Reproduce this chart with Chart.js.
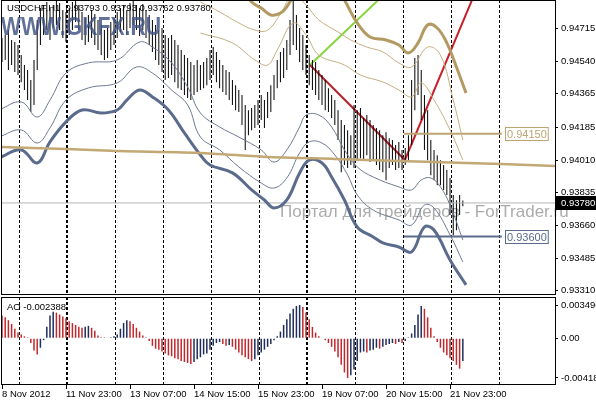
<!DOCTYPE html>
<html lang="en">
<head>
<meta charset="UTF-8">
<title>USDCHF,H1</title>
<script src="https://cdn.jsdelivr.net/npm/chart.js"></script>
<style>
    body { margin: 0; background: #fff; width: 596px; height: 400px; position: relative; overflow: hidden; }
    #main { position: absolute; left: 0; top: 0; }
    #ao { position: absolute; left: 0; top: 296px; }
</style>
</head>
<body>
<canvas id="main" width="596" height="296"></canvas>
<canvas id="ao" width="596" height="104"></canvas>
<script>
// ---- data (bar index = H1 bar, 0 = left edge) ----
const symbol = 'USDCHF,H1';
const quote = [0.93793, 0.93793, 0.93762, 0.93780];   // O H L C of last bar

const highs = [
    0.94663, 0.94679, 0.94706, 0.94653, 0.94642, 0.94626, 0.94572, 0.94519, 0.94492, 0.94438,
    0.94545, 0.94760, 0.94824, 0.94840, 0.94856, 0.94824, 0.94840, 0.94867, 0.94851, 0.94813,
    0.94803, 0.94824, 0.94856, 0.94867, 0.94840, 0.94803, 0.94771, 0.94787, 0.94813, 0.94792,
    0.94760, 0.94733, 0.94706, 0.94717, 0.94749, 0.94771, 0.94803, 0.94824, 0.94840, 0.94813,
    0.94851, 0.94867, 0.94840, 0.94824, 0.94846, 0.94813, 0.94787, 0.94760, 0.94733, 0.94706,
    0.94717, 0.94679, 0.94663, 0.94679, 0.94653, 0.94626, 0.94599, 0.94572, 0.94556, 0.94535,
    0.94519, 0.94545, 0.94519, 0.94535, 0.94556, 0.94599, 0.94615, 0.94588, 0.94545, 0.94519,
    0.94492, 0.94481, 0.94438, 0.94411, 0.94385, 0.94358, 0.94304, 0.94277, 0.94288, 0.94304,
    0.94331, 0.94358, 0.94331, 0.94374, 0.94411, 0.94465, 0.94545, 0.94588, 0.94610, 0.94653,
    0.94760, 0.94867, 0.94787, 0.94717, 0.94679, 0.94626, 0.94572, 0.94545, 0.94535, 0.94492,
    0.94465, 0.94438, 0.94395, 0.94358, 0.94331, 0.94277, 0.94224, 0.94197, 0.94170, 0.94143,
    0.94304, 0.94277, 0.94288, 0.94235, 0.94251, 0.94224, 0.94197, 0.94181, 0.94170, 0.94143,
    0.94159, 0.94127, 0.94117, 0.94090, 0.94106, 0.94063, 0.94074, 0.94143, 0.94438, 0.94556,
    0.94572, 0.94492, 0.94358, 0.94277, 0.94117, 0.94063, 0.94036, 0.94009, 0.93983, 0.93956,
    0.93913, 0.93822, 0.93795, 0.93822, 0.93793
];
const lows = [
    0.94535, 0.94545, 0.94492, 0.94519, 0.94481, 0.94465, 0.94427, 0.94385, 0.94331, 0.94267,
    0.94304, 0.94492, 0.94626, 0.94679, 0.94706, 0.94653, 0.94717, 0.94733, 0.94706, 0.94663,
    0.94642, 0.94679, 0.94706, 0.94749, 0.94706, 0.94653, 0.94626, 0.94642, 0.94663, 0.94626,
    0.94599, 0.94572, 0.94545, 0.94556, 0.94599, 0.94626, 0.94663, 0.94695, 0.94706, 0.94679,
    0.94717, 0.94733, 0.94706, 0.94674, 0.94706, 0.94663, 0.94626, 0.94588, 0.94545, 0.94519,
    0.94481, 0.94438, 0.94449, 0.94465, 0.94427, 0.94395, 0.94385, 0.94358, 0.94342, 0.94331,
    0.94358, 0.94374, 0.94385, 0.94395, 0.94411, 0.94438, 0.94465, 0.94427, 0.94395, 0.94374,
    0.94358, 0.94331, 0.94304, 0.94277, 0.94267, 0.94197, 0.94063, 0.94143, 0.94170, 0.94181,
    0.94197, 0.94224, 0.94181, 0.94235, 0.94267, 0.94331, 0.94395, 0.94427, 0.94449, 0.94492,
    0.94572, 0.94626, 0.94599, 0.94535, 0.94492, 0.94465, 0.94411, 0.94385, 0.94358, 0.94331,
    0.94304, 0.94277, 0.94267, 0.94235, 0.94197, 0.94117, 0.93945, 0.93983, 0.93967, 0.93983,
    0.93967, 0.94009, 0.94020, 0.94009, 0.94036, 0.93999, 0.94009, 0.93983, 0.93956, 0.93945,
    0.93902, 0.93967, 0.93983, 0.93956, 0.93967, 0.93956, 0.93983, 0.94009, 0.94090, 0.94277,
    0.94358, 0.94224, 0.94063, 0.94009, 0.93929, 0.93902, 0.93875, 0.93875, 0.93849, 0.93822,
    0.93715, 0.93607, 0.93634, 0.93715, 0.93762
];

// envelope bands: knots as [bar index], [price]
const goldOuterX = [62, 74, 78, 81, 84, 87, 89, 92, 98, 104, 107, 111, 115, 120, 124, 127, 130, 133, 136, 139, 142, 145];
const goldOuterY = [0.95081, 0.94947, 0.94856, 0.94824, 0.94787, 0.94797, 0.94830, 0.94921, 0.95081, 0.94947, 0.94867,
    0.94744, 0.94669, 0.94653, 0.94626, 0.94583, 0.94637, 0.94733, 0.94717, 0.94637, 0.94508, 0.94369];
const goldMidX = [62, 68, 74, 79, 83, 87, 91, 95, 99, 105, 109, 114, 119, 124, 128, 133, 137, 141, 144];
const goldMidY = [0.94856, 0.94803, 0.94744, 0.94706, 0.94706, 0.94792, 0.94894, 0.94840, 0.94760, 0.94696,
    0.94653, 0.94615, 0.94589, 0.94530, 0.94508, 0.94615, 0.94572, 0.94331, 0.94117];
const goldInnerX = [62, 72, 79, 83, 86, 91, 95, 99, 107, 112, 119, 124, 128, 131, 135, 140, 144];
const goldInnerY = [0.94690, 0.94637, 0.94546, 0.94519, 0.94599, 0.94744, 0.94680, 0.94572, 0.94519, 0.94465,
    0.94428, 0.94385, 0.94348, 0.94423, 0.94331, 0.94171, 0.94010];

const slateOuterX = [-1, 6, 11, 15, 20, 25, 31, 36, 39, 43, 47, 52, 57, 62, 65, 72, 78, 82, 85, 89, 93, 96, 100,
    103, 107, 111, 116, 119, 124, 128, 132, 135, 140, 145];
const slateOuterY = [0.94021, 0.94064, 0.93994, 0.94107, 0.94214, 0.94278, 0.94262, 0.94278, 0.94331, 0.94385,
    0.94348, 0.94278, 0.94155, 0.94037, 0.93983, 0.93941, 0.93850, 0.93796, 0.93753, 0.93796, 0.93941, 0.94010,
    0.93994, 0.93919, 0.93796, 0.93651, 0.93598, 0.93566, 0.93544, 0.93518, 0.93651, 0.93635, 0.93475, 0.93341];
const slateMidX = [-1, 6, 11, 15, 20, 27, 36, 42, 47, 53, 58, 62, 68, 74, 81, 85, 89, 93, 96, 100, 104, 108, 111,
    116, 124, 128, 132, 135, 140, 144];
const slateMidY = [0.94133, 0.94171, 0.94101, 0.94182, 0.94331, 0.94396, 0.94423, 0.94508, 0.94476, 0.94385,
    0.94305, 0.94133, 0.94064, 0.93973, 0.93887, 0.93860, 0.93914, 0.94048, 0.94107, 0.94101, 0.94037, 0.93930,
    0.93823, 0.93742, 0.93689, 0.93662, 0.93769, 0.93753, 0.93609, 0.93464];
const slateInnerX = [-1, 6, 11, 15, 20, 27, 36, 43, 47, 53, 58, 62, 68, 74, 81, 85, 89, 93, 95, 99, 103, 107, 111,
    116, 124, 128, 131, 134, 137, 140, 144];
const slateInnerY = [0.94278, 0.94321, 0.94240, 0.94331, 0.94476, 0.94530, 0.94546, 0.94642, 0.94615, 0.94530,
    0.94401, 0.94262, 0.94187, 0.94133, 0.94064, 0.93999, 0.94064, 0.94187, 0.94251, 0.94251, 0.94187, 0.94064,
    0.93973, 0.93919, 0.93866, 0.93850, 0.93903, 0.93914, 0.93866, 0.93769, 0.93582];

// slow moving average
const maX = [-1, 20, 36, 62, 83, 104, 124, 135, 145, 156, 173];
const maY = [0.94080, 0.94069, 0.94058, 0.94048, 0.94026, 0.94016, 0.94005, 0.93999, 0.93994, 0.93989, 0.93978];

// trend lines [x0, y0, x1, y1]
const redDown = [96.25, 0.94519, 125.9, 0.94010];
const redUp = [125.9, 0.94010, 150, 0.94995];
const greenUp = [96.25, 0.94519, 122, 0.94939];

// horizontal levels
const levelValues = [0.94150, 0.93600];
const levelFrom = 125.6, levelTo = 156.2;

// Awesome Oscillator
const aoValues = [
    0.0024, 0.0022, 0.0019, 0.0015, 0.0010, 0.0006, 0.0004, 0.0002, 0.0001, -0.0005,
    -0.0013, -0.0017, -0.0010, -0.0002, 0.0012, 0.0024, 0.0028, 0.0027, 0.0025, 0.0023,
    0.0021, 0.0018, 0.0016, 0.0014, 0.0012, 0.0011, 0.0012, 0.0013, 0.0011, 0.0008,
    0.0003, 0.0001, 0.0001, 0.00005, 0.0001, 0.0002, 0.0004, 0.0010, 0.0016, 0.0019,
    0.0018, 0.0015, 0.0011, 0.0007, 0.0003, 0.0001, -0.0003, -0.0008, -0.0011, -0.0012,
    -0.0014, -0.0016, -0.0018, -0.0019, -0.0021, -0.0022, -0.0024, -0.0025, -0.0026, -0.0027,
    -0.0025, -0.0022, -0.0020, -0.0017, -0.0016, -0.0012, -0.0008, -0.0005, -0.0004, -0.0006,
    -0.0008, -0.0007, -0.0009, -0.0012, -0.0015, -0.0018, -0.0020, -0.0022, -0.0024, -0.0022,
    -0.0018, -0.0015, -0.0012, -0.0009, -0.0006, -0.0002, 0.0002, 0.0007, 0.0014, 0.0020,
    0.0026, 0.0031, 0.0034, 0.003496, 0.0033, 0.0027, 0.0020, 0.0012, 0.0006, 0.0002,
    0.00005, -0.0002, -0.0005, -0.0009, -0.0014, -0.0020, -0.0028, -0.0036, -0.00418, -0.0039,
    -0.0033, -0.0024, -0.0015, -0.0014, -0.0015, -0.0013, -0.0012, -0.0010, -0.0011, -0.0009,
    -0.0007, -0.0006, -0.0005, -0.0006, -0.0004, -0.0005, -0.0003, 0.0001, 0.0005, 0.0014,
    0.0025, 0.0034, 0.0031, 0.0022, 0.0011, 0.0002, -0.0004, -0.0010, -0.0015, -0.0018,
    -0.0021, -0.0024, -0.0028, -0.0032, -0.002388
];

// axes
const timeLabels = ['8 Nov 2012', '11 Nov 23:00', '13 Nov 07:00', '14 Nov 15:00', '15 Nov 23:00',
    '19 Nov 07:00', '20 Nov 15:00', '21 Nov 23:00'];
const timeLabelBars = [0, 20, 40, 60, 80, 100, 120, 140];
const gridBars = [5.6, 20, 20.6, 35.6, 50.6, 65.6, 80.6, 95, 95.6, 110.6, 125.6, 140.6, 155.6];
const priceTicks = [0.94715, 0.94540, 0.94365, 0.94185, 0.94010, 0.93835, 0.93660, 0.93485, 0.93310];
const aoTicks = [0.003496, 0, -0.00418];
const aoTickLabels = ['0.003496', '0.00', '-0.00418'];

// ---- setup ----
const X_MIN = 0, X_MAX = 172.8;
const FONT = 'Liberation Sans';
const axisFont = { family: FONT, size: 9.5 };
const xy = (xs, ys) => xs.map((x, i) => ({ x: x, y: ys[i] }));
const seg = s => [{ x: s[0], y: s[1] }, { x: s[2], y: s[3] }];
const lastClose = quote[3];
const noPad = s => { s.paddingTop = 0; s.paddingBottom = 0; s.paddingLeft = 0; s.paddingRight = 0; };

const gridAxis = {
    type: 'linear', min: X_MIN, max: X_MAX, offset: false,
    afterBuildTicks: s => { s.ticks = gridBars.map(v => ({ value: v })); },
    afterFit: s => { s.height = 0; noPad(s); },
    ticks: { display: false },
    grid: { color: '#000', lineWidth: 1, drawTicks: false, offset: false },
    border: { display: false, dash: [3, 2] }
};

const line = (data, color, width, extra) => Object.assign({
    type: 'line', data: data, borderColor: color, borderWidth: width,
    pointRadius: 0, fill: false, tension: 0.4, clip: 0
}, extra || {});

const framePlugin = {
    id: 'frame',
    afterDraw(chart) {
        const a = chart.chartArea, ctx = chart.ctx;
        ctx.save();
        ctx.strokeStyle = '#000';
        ctx.lineWidth = 1;
        ctx.strokeRect(Math.round(a.left) - 0.5, Math.round(a.top) + 0.5,
            Math.round(a.right - a.left) + 1, Math.round(a.bottom - a.top) - 1);
        ctx.restore();
    }
};

const mainDecor = {
    id: 'mainDecor',
    beforeDatasetsDraw(chart) {
        const ctx = chart.ctx;
        ctx.save();
        ctx.fillStyle = 'rgba(150,150,150,0.8)';
        ctx.font = '17px ' + FONT;
        ctx.fillText('Портал для трейдеров - ForTrader.ru', 280, 217);
        ctx.restore();
    },
    afterDatasetsDraw(chart) {
        const ctx = chart.ctx;
        ctx.save();
        ctx.font = 'bold 25px ' + FONT;
        const txt = 'WWW.GKFX.RU';
        const w = ctx.measureText(txt).width;
        ctx.translate(1, 35);
        ctx.scale(160 / w, 1);
        ctx.fillStyle = 'rgba(62,82,130,0.82)';
        ctx.fillText(txt, 0, 0);
        ctx.restore();
    },
    afterDraw(chart) {
        const ctx = chart.ctx, a = chart.chartArea;
        const xs = chart.scales.x, ys = chart.scales.y;
        ctx.save();
        ctx.font = '9.5px ' + FONT;
        ctx.fillStyle = '#000';
        ctx.textBaseline = 'middle';
        ctx.fillText(symbol + '  ' + quote.map(v => v.toFixed(5)).join(' '), 7, 8);
        // level labels
        ctx.font = '11px ' + FONT;
        const levelColors = ['#bda573', '#5b6b8c'];
        levelValues.forEach((v, k) => {
            const y = Math.round(ys.getPixelForValue(v));
            const x = Math.round(xs.getPixelForValue(levelTo)) + 3;
            const t = v.toFixed(5);
            const tw = ctx.measureText(t).width;
            ctx.fillStyle = '#fff';
            ctx.fillRect(x, y - 7, tw + 4, 14);
            ctx.strokeStyle = levelColors[k];
            ctx.lineWidth = 1;
            ctx.strokeRect(x + 0.5, y - 6.5, tw + 3, 13);
            ctx.fillStyle = levelColors[k];
            ctx.fillText(t, x + 2, y + 0.5);
        });
        // current price box on the axis
        const yc = Math.round(ys.getPixelForValue(lastClose));
        ctx.fillStyle = '#000';
        ctx.fillRect(a.right, yc - 7, 596 - a.right, 14);
        ctx.fillStyle = '#fff';
        ctx.font = '9.5px ' + FONT;
        ctx.fillText(lastClose.toFixed(5), a.right + 6, yc + 0.5);
        ctx.restore();
    }
};

new Chart(document.getElementById('main'), {
    type: 'bar',
    data: {
        datasets: [
            line(xy(maX, maY), '#c1a874', 2.5, { tension: 0.2 }),
            line(xy(goldOuterX, goldOuterY), '#b39a62', 3),
            line(xy(goldMidX, goldMidY), '#c4ae80', 1),
            line(xy(goldInnerX, goldInnerY), '#c4ae80', 1),
            line(xy(slateOuterX, slateOuterY), '#5b6b8c', 3),
            line(xy(slateMidX, slateMidY), '#6d7892', 1),
            line(xy(slateInnerX, slateInnerY), '#6d7892', 1),
            line([{ x: X_MIN, y: lastClose }, { x: X_MAX, y: lastClose }], '#b4b4b4', 1, { tension: 0 }),
            line([{ x: levelFrom, y: levelValues[0] }, { x: levelTo, y: levelValues[0] }], '#bda573', 2, { tension: 0 }),
            line([{ x: levelFrom, y: levelValues[1] }, { x: levelTo, y: levelValues[1] }], '#5b6b8c', 2, { tension: 0 }),
            {
                type: 'bar',
                data: highs.map((h, i) => ({ x: i, y: [lows[i], h] })),
                backgroundColor: '#000', barThickness: 1, inflateAmount: 0, grouped: false
            },
            line(seg(redDown), '#b3202a', 2, { tension: 0 }),
            line(seg(redUp), '#c8202a', 2, { tension: 0 }),
            line(seg(greenUp), '#86d63c', 2, { tension: 0 })
        ]
    },
    options: {
        responsive: false,
        animation: false,
        events: [],
        layout: { padding: { left: 2, top: 0, bottom: 1, right: 0 } },
        plugins: { legend: { display: false }, tooltip: { enabled: false } },
        scales: {
            x: gridAxis,
            y: {
                position: 'right', min: 0.93287, max: 0.94867,
                afterBuildTicks: s => { s.ticks = priceTicks.map(v => ({ value: v })); },
                afterFit: s => { s.width = 41; noPad(s); },
                grid: { drawOnChartArea: false, drawTicks: true, tickLength: 3, color: '#000' },
                border: { display: false },
                ticks: { color: '#000', font: axisFont, padding: 3, autoSkip: false, callback: v => v.toFixed(5) }
            }
        }
    },
    plugins: [mainDecor, framePlugin]
});

const aoDecor = {
    id: 'aoDecor',
    afterDraw(chart) {
        const ctx = chart.ctx;
        ctx.save();
        ctx.font = '9.5px ' + FONT;
        ctx.fillStyle = '#000';
        ctx.textBaseline = 'middle';
        ctx.fillText('AO ' + aoValues[aoValues.length - 1].toFixed(6), 7, 11);
        ctx.restore();
    }
};

new Chart(document.getElementById('ao'), {
    type: 'bar',
    data: {
        datasets: [{
            data: aoValues.map((v, i) => ({ x: i, y: v })),
            backgroundColor: aoValues.map((v, i) => (i === 0 || v < aoValues[i - 1]) ? '#c0282d' : '#1f2d5a'),
            barThickness: 1.5, inflateAmount: 0, grouped: false
        }]
    },
    options: {
        responsive: false,
        animation: false,
        events: [],
        layout: { padding: { left: 2, top: 1, bottom: 0, right: 0 } },
        plugins: { legend: { display: false }, tooltip: { enabled: false } },
        scales: {
            x: gridAxis,
            xl: {
                type: 'linear', position: 'bottom', min: X_MIN, max: X_MAX, offset: false,
                afterBuildTicks: s => { s.ticks = timeLabelBars.map(v => ({ value: v })); },
                afterFit: s => { s.height = 15; noPad(s); },
                grid: { drawOnChartArea: false, drawTicks: true, tickLength: 4, color: '#000', offset: false },
                border: { display: false },
                ticks: {
                    color: '#000', font: axisFont, padding: 0, align: 'start', maxRotation: 0,
                    autoSkip: false, callback: (v, i) => timeLabels[i]
                }
            },
            y: {
                position: 'right', min: -0.00492, max: 0.00434,
                afterBuildTicks: s => { s.ticks = aoTicks.map(v => ({ value: v })); },
                afterFit: s => { s.width = 41; noPad(s); },
                grid: { drawOnChartArea: false, drawTicks: true, tickLength: 3, color: '#000' },
                border: { display: false },
                ticks: { color: '#000', font: axisFont, padding: 3, autoSkip: false, callback: (v, i) => aoTickLabels[i] }
            }
        }
    },
    plugins: [aoDecor, framePlugin]
});
</script>
</body>
</html>
